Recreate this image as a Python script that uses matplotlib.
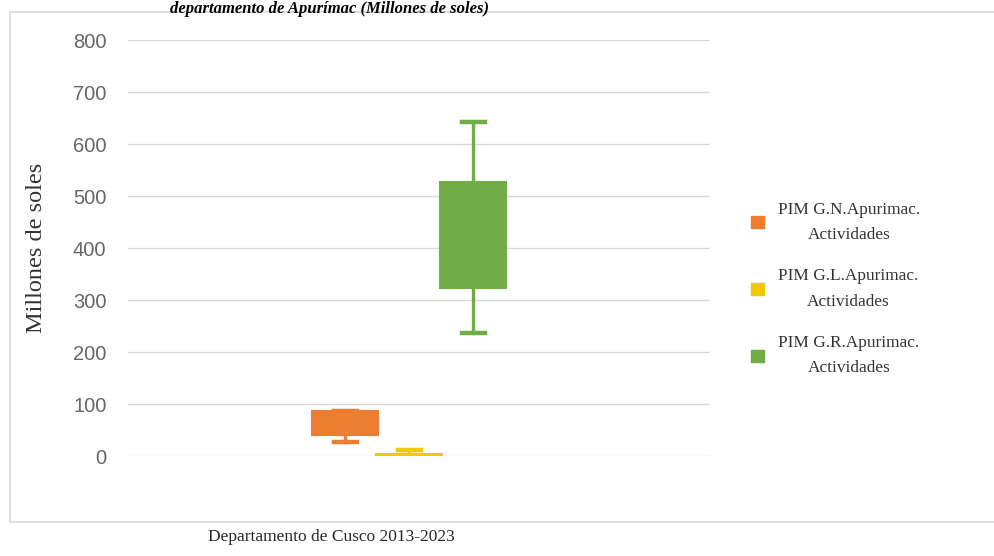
"""Diagrama de cajas del PIM en actividades (millones de soles), 2013-2023."""
import matplotlib
matplotlib.use("Agg")
import matplotlib.pyplot as plt
from matplotlib.patches import Patch, Rectangle

# resumen de cada serie: mínimo, Q1, mediana, Q3, máximo (millones de soles)
SERIES = ["PIM G.N.Apurimac.\nActividades",
          "PIM G.L.Apurimac.\nActividades",
          "PIM G.R.Apurimac.\nActividades"]
MINIMOS = [27, 0, 236]
Q1 = [40, 0.5, 323]
MEDIANAS = [62, 2, 431]
Q3 = [86, 4, 527]
MAXIMOS = [86, 12, 642]
COLORES = ["#ED7D31", "#F2C800", "#70AD47"]
YTICKS = [0, 100, 200, 300, 400, 500, 600, 700, 800]

SERIF = ["Liberation Serif", "DejaVu Serif"]

fig = plt.figure(figsize=(9.95, 5.56), dpi=100)
W, H = 995, 556
ax = fig.add_axes([128 / W, 1 - 456 / H, 582 / W, 416 / H])

# marco del gráfico
fig.add_artist(Rectangle((10 / W, 1 - 522 / H), 1 - 10 / W, 510 / H,
                         transform=fig.transFigure, fill=False,
                         edgecolor="#d9d9d9", lw=1.2))

stats = []
for mn, a, m, b, mx in zip(MINIMOS, Q1, MEDIANAS, Q3, MAXIMOS):
    stats.append(dict(whislo=mn, q1=a, med=m, q3=b, whishi=mx, fliers=[]))

pos = [1, 2, 3]
for s, p, c in zip(stats, pos, COLORES):
    ax.bxp([s], positions=[p], widths=1.02, capwidths=0.36, patch_artist=True,
           showfliers=False,
           boxprops=dict(facecolor=c, edgecolor=c, lw=1.5),
           whiskerprops=dict(color=c, lw=2.4),
           capprops=dict(color=c, lw=3.2),
           medianprops=dict(color=c, lw=1.0), zorder=3)

ax.set_xlim(-2.39, 6.70)
ax.set_ylim(0, 800)
ax.set_yticks(YTICKS)
ax.set_xticks([])
ax.grid(axis="y", color="#d9d9d9", lw=1.0)
ax.set_axisbelow(True)
for sp in ax.spines.values():
    sp.set_visible(False)
ax.tick_params(axis="y", length=0, pad=15.5, labelsize=14.5, labelcolor="#666666")
for t in ax.get_yticklabels():
    t.set_family(["Liberation Sans", "DejaVu Sans"])

ax.set_ylabel("Millones de soles", family=SERIF, fontsize=17.5, color="#333333")
ax.yaxis.set_label_coords(-0.158, 0.5)
ax.yaxis.label.set_va("center")
ax.set_xlabel("Departamento de Cusco 2013-2023", family=SERIF, fontsize=12.5,
              color="#262626")
ax.xaxis.set_label_coords(0.349, -0.195)
ax.xaxis.label.set_va("center")

handles = [Patch(facecolor=c, edgecolor=c) for c in COLORES]
leg = fig.legend(handles, SERIES, loc="center left",
                 bbox_to_anchor=(736 / W, 1 - 289 / H), frameon=False,
                 prop=dict(family=SERIF, size=12.4), labelcolor="#333333",
                 handlelength=0.75, handleheight=0.75, handletextpad=0.8,
                 labelspacing=1.5)
for t in leg.get_texts():
    t.set_multialignment("center")
    t.set_linespacing(1.75)

# título en el borde superior
fig.text(170 / W, 1 - 1 / H,
         "departamento de Apurímac (Millones de soles)",
         family=SERIF, fontsize=12, weight="bold", style="italic",
         va="top", ha="left")

fig.savefig("out.png", dpi=100)
